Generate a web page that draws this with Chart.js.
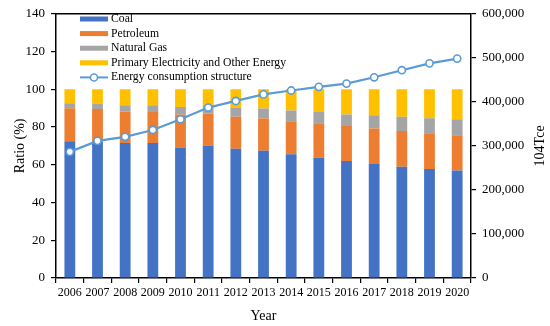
<!DOCTYPE html>
<html>
<head>
<meta charset="utf-8">
<script src="https://cdn.jsdelivr.net/npm/chart.js@4"></script>
<style>
  html, body { margin: 0; padding: 0; background: #fff; }
  #chart { display: block; }
</style>
</head>
<body>
<canvas id="chart" width="550" height="326"></canvas>
<script>
const years = ['2006','2007','2008','2009','2010','2011','2012','2013','2014','2015','2016','2017','2018','2019','2020'];
const coal = [72.4, 72.5, 71.5, 71.6, 69.2, 70.2, 68.5, 67.4, 65.6, 63.7, 62.0, 60.4, 59.0, 57.7, 56.9];
const petroleum = [17.5, 17.0, 16.7, 16.4, 17.4, 16.8, 17.0, 17.1, 17.4, 18.3, 18.5, 18.8, 18.9, 19.0, 18.8];
const naturalGas = [2.7, 3.0, 3.4, 3.5, 4.0, 4.6, 4.8, 5.3, 5.7, 5.9, 6.2, 7.0, 7.6, 8.0, 8.4];
const primaryElec = [7.4, 7.5, 8.4, 8.5, 9.4, 8.4, 9.7, 10.2, 11.3, 12.1, 13.3, 13.8, 14.5, 15.3, 15.9];
const totalConsumption = [286467, 311442, 320611, 336126, 360648, 387043, 402138, 416913, 425806, 434113, 441492, 455827, 471925, 487488, 498314];

const serif = '"Liberation Serif", "Times New Roman", serif';

// legend + frame + right title drawn by hand (Excel-like look)
const extras = {
  id: 'extras',
  afterDraw(chart) {
    const ctx = chart.ctx;
    const area = chart.chartArea;
    ctx.save();
    ctx.strokeStyle = '#000';
    ctx.lineWidth = 1.5;
    ctx.beginPath();
    ctx.moveTo(area.left, area.top);
    ctx.lineTo(area.right, area.top);
    ctx.stroke();

    // secondary axis title, bottom-to-top
    ctx.fillStyle = '#000';
    ctx.font = '14px ' + serif;
    ctx.textAlign = 'center';
    ctx.textBaseline = 'middle';
    ctx.translate(540, (area.top + area.bottom) / 2);
    ctx.rotate(-Math.PI / 2);
    ctx.fillText('104Tce', 0, 0);
    ctx.restore();

    // legend
    ctx.save();
    ctx.font = '11.7px ' + serif;
    ctx.textAlign = 'left';
    ctx.textBaseline = 'middle';
    const order = [1, 2, 3, 4, 0];
    order.forEach((di, i) => {
      const ds = chart.data.datasets[di];
      const y = 19 + i * 14.6;
      const x0 = 80, x1 = 108;
      if (ds.type === 'line') {
        ctx.strokeStyle = ds.borderColor;
        ctx.lineWidth = 2;
        ctx.beginPath();
        ctx.moveTo(x0, y);
        ctx.lineTo(x1, y);
        ctx.stroke();
        ctx.beginPath();
        ctx.arc((x0 + x1) / 2, y, 3.5, 0, Math.PI * 2);
        ctx.fillStyle = '#fff';
        ctx.fill();
        ctx.lineWidth = 1.5;
        ctx.stroke();
      } else {
        ctx.fillStyle = ds.backgroundColor;
        ctx.fillRect(x0, y - 2.5, x1 - x0, 5);
      }
      ctx.fillStyle = '#000';
      ctx.fillText(ds.label, 111, y);
    });
    ctx.restore();
  }
};

const ctx = document.getElementById('chart').getContext('2d');
new Chart(ctx, {
  data: {
    labels: years,
    datasets: [
      {
        type: 'line',
        label: 'Energy consumption structure',
        data: totalConsumption,
        yAxisID: 'y2',
        borderColor: '#5B9BD5',
        borderWidth: 2.2,
        pointRadius: 3.6,
        pointBorderWidth: 1.6,
        pointBackgroundColor: '#fff',
        pointBorderColor: '#5B9BD5',
        tension: 0,
        order: 0
      },
      { type: 'bar', label: 'Coal', data: coal, backgroundColor: '#4472C4', stack: 's', yAxisID: 'y', order: 1 },
      { type: 'bar', label: 'Petroleum', data: petroleum, backgroundColor: '#ED7D31', stack: 's', yAxisID: 'y', order: 1 },
      { type: 'bar', label: 'Natural Gas', data: naturalGas, backgroundColor: '#A5A5A5', stack: 's', yAxisID: 'y', order: 1 },
      { type: 'bar', label: 'Primary Electricity and Other Energy', data: primaryElec, backgroundColor: '#FFC000', stack: 's', yAxisID: 'y', order: 1 }
    ]
  },
  options: {
    responsive: false,
    animation: false,
    layout: { padding: { top: 10, left: 0, right: 0, bottom: 0 } },
    datasets: { bar: { barPercentage: 0.39, categoryPercentage: 1 } },
    plugins: { legend: { display: false }, tooltip: { enabled: false } },
    scales: {
      x: {
        stacked: true,
        afterFit(s) { s.height = 48; },
        border: { color: '#000', width: 1.5 },
        grid: { offset: true, drawOnChartArea: false, color: '#000', tickLength: 5, lineWidth: 1.2 },
        ticks: { color: '#000', font: { family: serif, size: 12 }, autoSkip: false, maxRotation: 0, padding: 3 },
        title: { display: true, text: 'Year', color: '#000', font: { family: serif, size: 14 }, padding: { top: 0, bottom: 1 } }
      },
      y: {
        position: 'left',
        stacked: true,
        min: 0, max: 140,
        afterFit(s) { s.width = 56; },
        border: { color: '#000', width: 1.5 },
        grid: { drawOnChartArea: false, color: '#000', tickLength: 5, lineWidth: 1.2 },
        ticks: { stepSize: 20, color: '#000', font: { family: serif, size: 13 }, padding: 6 },
        title: { display: true, text: 'Ratio (%)', color: '#000', font: { family: serif, size: 14 }, padding: { top: 12, bottom: 0 } }
      },
      y2: {
        position: 'right',
        min: 0, max: 600000,
        afterFit(s) { s.width = 79; },
        border: { color: '#000', width: 1.5 },
        grid: { drawOnChartArea: false, color: '#000', tickLength: 5, lineWidth: 1.2 },
        ticks: {
          stepSize: 100000, color: '#000', font: { family: serif, size: 13 }, padding: 6,
          callback: v => v.toLocaleString('en-US')
        }
      }
    }
  },
  plugins: [extras]
});
</script>
</body>
</html>
